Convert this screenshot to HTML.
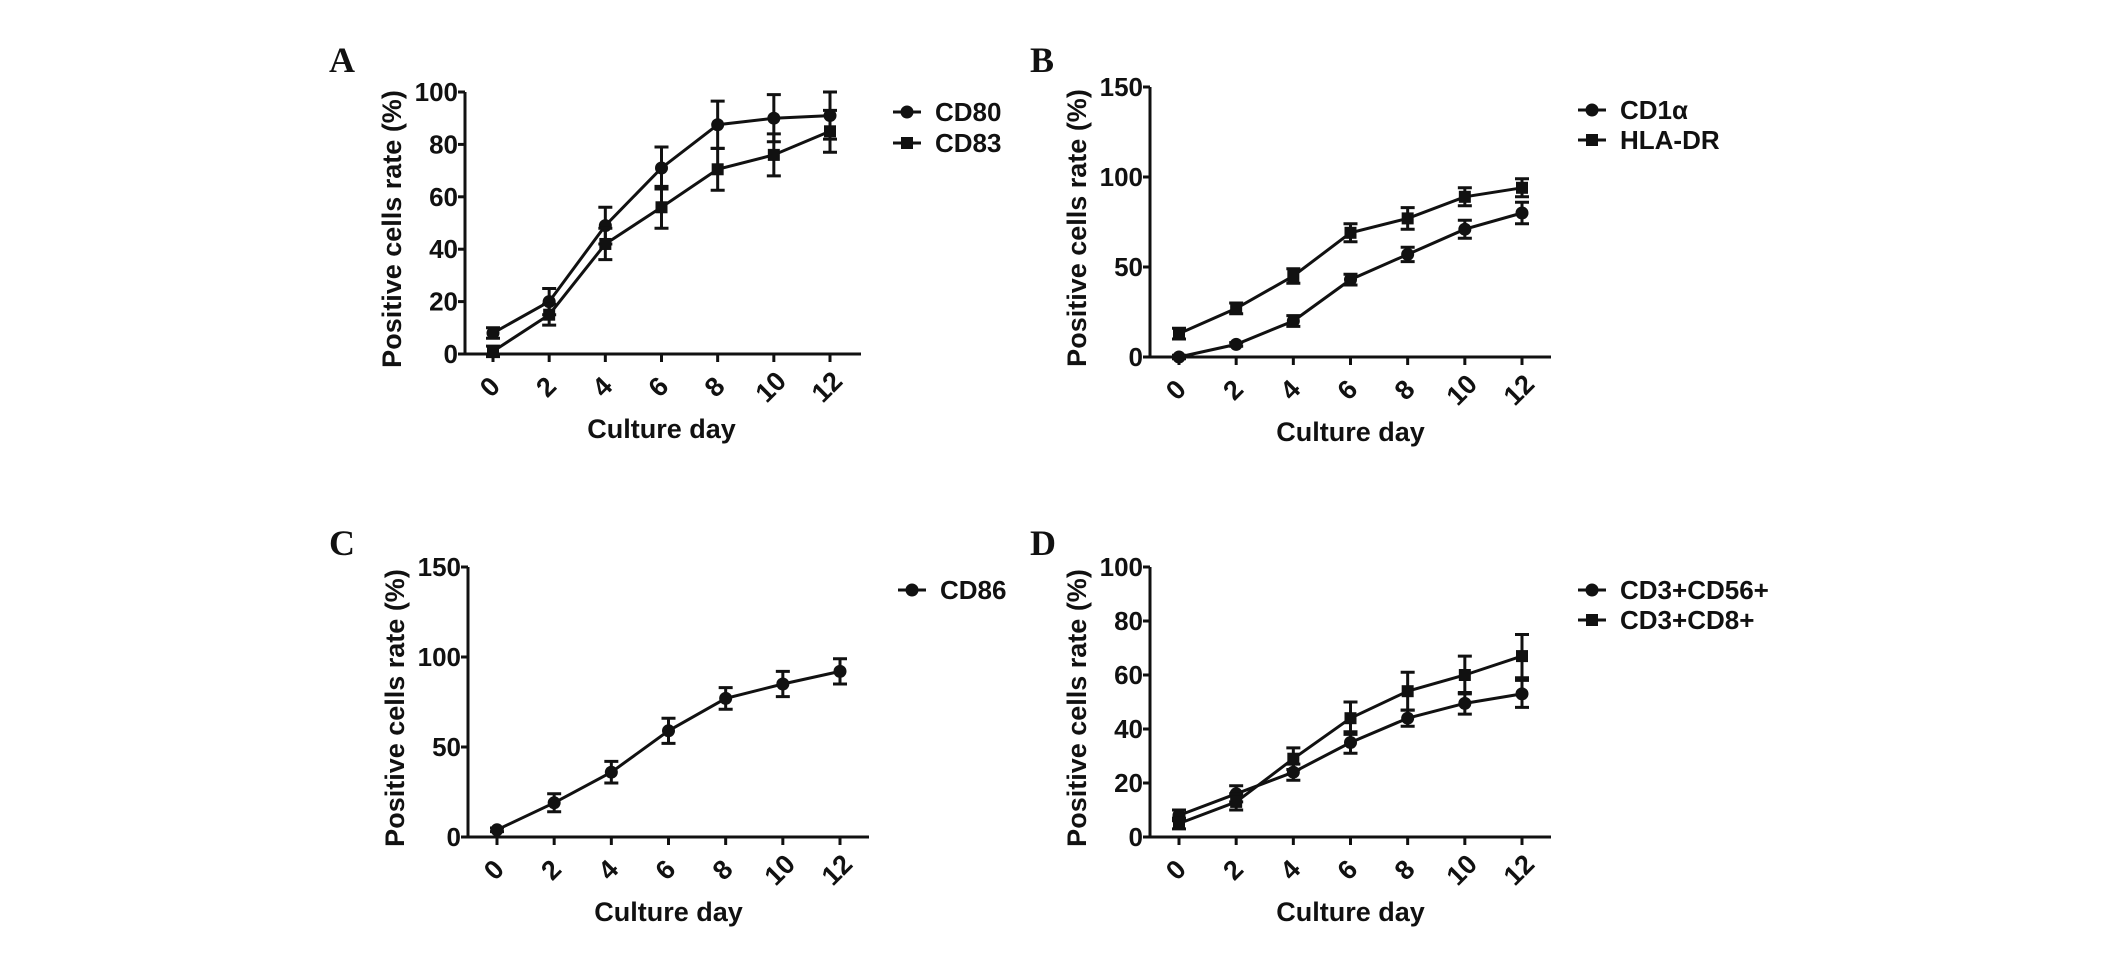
<!DOCTYPE html>
<html><head><meta charset="utf-8"><style>
html,body{margin:0;padding:0;background:#fff;}
svg text{font-family:"Liberation Sans",Arial,sans-serif;font-weight:bold;fill:#111;}
.pl{font-family:"Liberation Serif","Times New Roman",serif !important;font-size:36px;}
</style></head><body>
<svg id="fig" width="2126" height="954" viewBox="0 0 2126 954" xmlns="http://www.w3.org/2000/svg"></svg>
<script>
const days = [0,2,4,6,8,10,12];
const aCD80 = [8,20,49,71,87.5,90,91];
const aCD80err = [2,5,7,8,9,9,9];
const aCD83 = [1,15,42,56,70.5,76,85];
const aCD83err = [2,4,6,8,8,8,8];
const bCD1a = [0,7,20,43,57,71,80];
const bCD1aErr = [1,1,3,3,4,5,6];
const bHLADR = [13,27,45,69,77,89,94];
const bHLADRerr = [3,3,4,5,6,5,5];
const cCD86 = [4,19,36,59,77,85,92];
const cCD86err = [1,5,6,7,6,7,7];
const dCD56 = [8,16,24,35,44,49.5,53];
const dCD56err = [2,3,3,4,3,4,5];
const dCD8 = [5,13,29,44,54,60,67];
const dCD8err = [2,3,4,6,7,7,8];
const ticks100 = [0,20,40,60,80,100];
const ticks150 = [0,50,100,150];

const NS="http://www.w3.org/2000/svg";
const svg=document.getElementById('fig');
function mk(tag,attrs,parent,text){const e=document.createElementNS(NS,tag);for(const k in attrs)e.setAttribute(k,attrs[k]);if(text!==undefined)e.textContent=text;(parent||svg).appendChild(e);return e;}

function panel(cfg){
  const g=mk('g',{});
  
  
  const ax=cfg.ax, y0=cfg.y0, yT=cfg.yTop, ymax=cfg.ymax;
  const sx=d=>cfg.x0+(cfg.x12-cfg.x0)*d/12;
  const sy=v=>y0-(y0-yT)*v/ymax;
  const lbl=mk('text',{x:cfg.lx,y:cfg.ly,class:'pl'},g,cfg.id);
  
  
  const yaxis=mk('line',{x1:ax,y1:yT,x2:ax,y2:y0,stroke:'#111','stroke-width':3},g);
  
  
  const xaxis=mk('line',{x1:ax,y1:y0,x2:cfg.xend,y2:y0,stroke:'#111','stroke-width':3},g);
  
  
  cfg.ticks.forEach(t=>{
    mk('line',{x1:ax-7,y1:sy(t),x2:ax,y2:sy(t),stroke:'#111','stroke-width':3},g);
    const tl=mk('text',{x:ax-7,y:sy(t)+9,'text-anchor':'end','font-size':26},g,String(t));
    
    
  });
  days.forEach(d=>{
    mk('line',{x1:sx(d),y1:y0,x2:sx(d),y2:y0+8,stroke:'#111','stroke-width':3},g);
    const cx=sx(d)-3, cy=y0+33;
    const tl=mk('text',{x:cx,y:cy+9,'text-anchor':'middle','font-size':27,transform:`rotate(-45 ${cx} ${cy})`},g,String(d));
    
    
  });
  const xt=mk('text',{x:(cfg.x0+cfg.x12)/2,y:y0+84,'text-anchor':'middle','font-size':27},g,'Culture day');
  
  
  const ycx=ax-64, ycy=(y0+yT)/2+6;
  const yt=mk('text',{x:ycx,y:ycy,'text-anchor':'middle','font-size':27,transform:`rotate(-90 ${ycx} ${ycy})`},g,'Positive cells rate (%)');
  
  
  cfg.series.forEach((s,si)=>{
    const sg=mk('g',{},g);
    
    
    const pts=days.map((d,i)=>sx(d)+','+sy(s.v[i])).join(' ');
    mk('polyline',{points:pts,fill:'none',stroke:'#111','stroke-width':3},sg);
    days.forEach((d,i)=>{
      const x=sx(d),yv=sy(s.v[i]),yh=sy(s.v[i]+s.e[i]),yl=sy(s.v[i]-s.e[i]);
      const eb=mk('path',{d:`M${x},${yh}V${yl}M${x-7},${yh}H${x+7}M${x-7},${yl}H${x+7}`,stroke:'#111','stroke-width':3,fill:'none'},sg);
      
      
      let m;
      if(s.marker==='sq') m=mk('rect',{x:x-6,y:yv-6,width:12,height:12,fill:'#111'},sg);
      else m=mk('circle',{cx:x,cy:yv,r:6.5,fill:'#111'},sg);
      
      
    });
    const ly=cfg.legY+si*cfg.legDy;
    const le=mk('g',{},g);
    
    
    mk('line',{x1:cfg.legX,y1:ly,x2:cfg.legX+28,y2:ly,stroke:'#111','stroke-width':3},le);
    if(s.marker==='sq') mk('rect',{x:cfg.legX+8,y:ly-6,width:12,height:12,fill:'#111'},le);
    else mk('circle',{cx:cfg.legX+14,cy:ly,r:6.5,fill:'#111'},le);
    mk('text',{x:cfg.legX+42,y:ly+9,'font-size':26},le,s.name);
  });
}

panel({id:'A',lx:329,ly:72,ax:465,y0:354,yTop:92,ymax:100,x0:493,x12:830,xend:861,ticks:ticks100,
  legX:893,legY:112,legDy:31,
  series:[{name:'CD80',v:aCD80,e:aCD80err,marker:'c'},{name:'CD83',v:aCD83,e:aCD83err,marker:'sq'}]});
panel({id:'B',lx:1030,ly:72,ax:1150,y0:357,yTop:87,ymax:150,x0:1179,x12:1522,xend:1551,ticks:ticks150,
  legX:1578,legY:110,legDy:30,
  series:[{name:'CD1α',v:bCD1a,e:bCD1aErr,marker:'c'},{name:'HLA-DR',v:bHLADR,e:bHLADRerr,marker:'sq'}]});
panel({id:'C',lx:329,ly:555,ax:468,y0:837,yTop:567,ymax:150,x0:497,x12:840,xend:869,ticks:ticks150,
  legX:898,legY:590,legDy:30,
  series:[{name:'CD86',v:cCD86,e:cCD86err,marker:'c'}]});
panel({id:'D',lx:1030,ly:555,ax:1150,y0:837,yTop:567,ymax:100,x0:1179,x12:1522,xend:1551,ticks:ticks100,
  legX:1578,legY:590,legDy:30,
  series:[{name:'CD3+CD56+',v:dCD56,e:dCD56err,marker:'c'},{name:'CD3+CD8+',v:dCD8,e:dCD8err,marker:'sq'}]});
</script>
</body></html>
